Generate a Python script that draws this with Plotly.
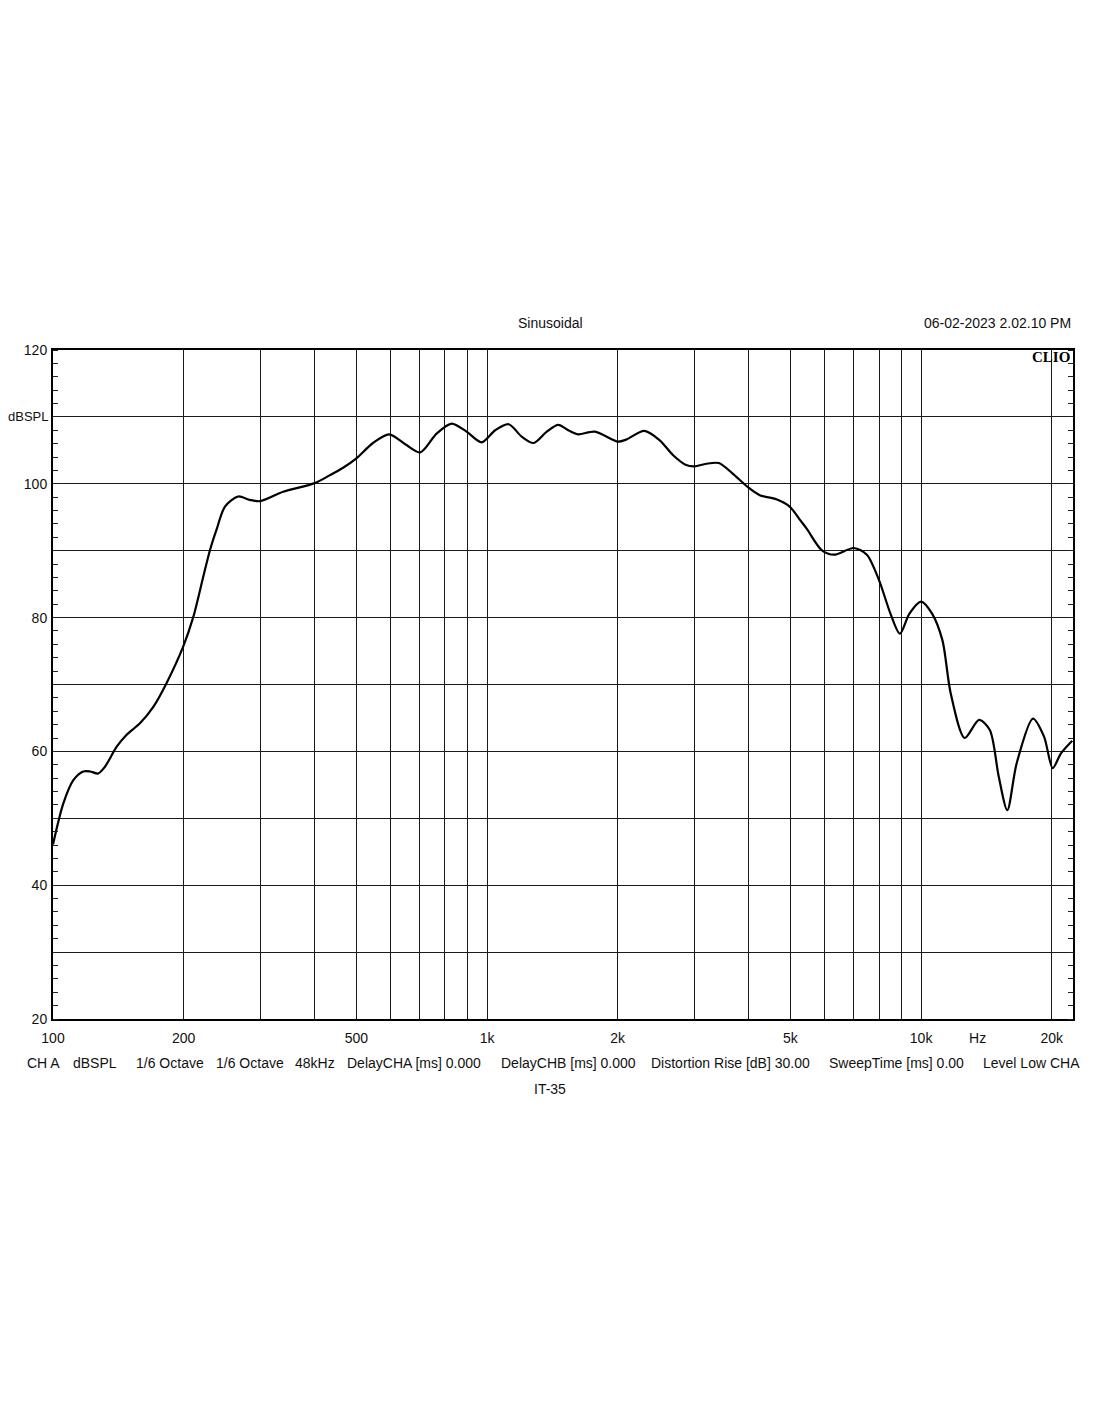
import plotly.graph_objects as go

# Frequency response (Hz, dBSPL)
freq_hz = [100, 105.6, 111.4, 117.4, 121.7, 127.1, 131.7, 140.2, 147.8, 158.6,
           170.4, 182.6, 199.6, 210.5, 221.9, 230, 238, 249, 267, 284,
           300, 339, 401, 434.6, 466, 500, 546, 595, 652, 702,
           765, 829, 897, 972, 1044, 1122, 1204, 1280, 1373, 1459,
           1539, 1620, 1771, 2003, 2090, 2303, 2500, 2680, 2875, 3005,
           3200, 3420, 3670, 3990, 4250, 4640, 4980, 5260, 5450, 5900,
           6300, 7000, 7500, 8000, 8500, 8940, 9400, 10000, 10600, 11200,
           11700, 12600, 13600, 14400, 15100, 15800, 16600, 18100, 19200, 20100,
           21000, 22300]
spl_db = [46.1, 52.2, 55.7, 57.0, 57.0, 56.7, 57.7, 60.7, 62.5, 64.2,
          66.7, 70.2, 75.7, 80.1, 86.1, 90.1, 93.1, 96.6, 98.1, 97.6,
          97.4, 98.8, 100.1, 101.3, 102.4, 103.8, 106.1, 107.4, 105.8, 104.7,
          107.5, 109.0, 107.8, 106.2, 108.0, 108.9, 107.0, 106.1, 107.8, 108.8,
          108.0, 107.4, 107.8, 106.3, 106.6, 107.9, 106.5, 104.3, 102.8, 102.6,
          103.0, 103.1, 101.6, 99.5, 98.3, 97.7, 96.6, 94.6, 93.3, 90.1,
          89.4, 90.4, 89.4, 85.6, 80.6, 77.6, 80.6, 82.4, 80.6, 76.6,
          68.7, 62.0, 64.7, 63.2, 56.2, 51.2, 58.2, 64.9, 62.2, 57.5,
          59.7, 61.6]

# Axis ticks
x_label_vals = [100, 200, 500, 1000, 2000, 5000, 10000, 13500, 20000]
x_label_text = ["100", "200", "500", "1k", "2k", "5k", "10k", "Hz", "20k"]
x_grid_vals = [200, 300, 400, 500, 600, 700, 800, 900, 1000,
               2000, 3000, 4000, 5000, 6000, 7000, 8000, 9000, 10000, 20000]
y_vals = [20, 30, 40, 50, 60, 70, 80, 90, 100, 110, 120]
y_text = ["20", "", "40", "", "60", "", "80", "", "100", "", "120"]
y_unit_label = "dBSPL"
y_unit_value = 110

info_items = ["CH A", "dBSPL", "1/6 Octave", "1/6 Octave", "48kHz",
              "DelayCHA [ms] 0.000", "DelayCHB [ms] 0.000",
              "Distortion Rise [dB] 30.00", "SweepTime [ms] 0.00", "Level Low CHA"]
info_x_px = [25, 71, 134, 214, 293, 345, 499, 649, 827, 981]

# page has an 8px body margin
OFF = 8
W, H = 1100 - 2 * OFF, 1422 - 2 * OFF
L, R, T, B = 53, 1073, 350, 1019   # plot area in page pixels
FONT = "Liberation Sans, Arial, sans-serif"
XR = [2, 4.35]
YR = [20, 120]
FS = 14

fig = go.Figure()
fig.add_trace(go.Scatter(x=freq_hz, y=spl_db, mode="lines",
                         line=dict(color="black", width=2.2, shape="spline", smoothing=0.8),
                         hoverinfo="skip", showlegend=False))
fig.add_trace(go.Scatter(x=[100], y=[20], xaxis="x2", yaxis="y2", mode="markers",
                         marker=dict(opacity=0), showlegend=False, hoverinfo="skip"))

fig.update_layout(
    width=W, height=H,
    margin=dict(l=L - OFF, r=W - (R - OFF), t=T - OFF, b=H - (B - OFF), autoexpand=False),
    paper_bgcolor="white", plot_bgcolor="white",
    font=dict(family=FONT, size=FS, color="#111"),
    xaxis=dict(type="log", range=XR, tickmode="array", tickvals=x_label_vals,
               ticktext=x_label_text, showgrid=False, zeroline=False, automargin=False,
               showline=True, linecolor="black", linewidth=2, mirror=True,
               ticks="", ticklabelstandoff=5, tickfont=dict(size=FS)),
    yaxis=dict(range=YR, tickmode="array", tickvals=y_vals, ticktext=y_text,
               showgrid=True, gridcolor="#1a1a1a", gridwidth=1.3, zeroline=False,
               automargin=False,
               showline=True, linecolor="black", linewidth=2, mirror=True,
               ticks="", ticklabelstandoff=1, tickfont=dict(size=FS),
               minor=dict(dtick=2, ticks="inside", ticklen=5, tickcolor="#222",
                          tickwidth=1, showgrid=False)),
    xaxis2=dict(type="log", range=XR, overlaying="x", tickmode="array",
                tickvals=x_grid_vals, showticklabels=False, showgrid=True,
                gridcolor="#1a1a1a", gridwidth=1.3, zeroline=False, ticks="",
                showline=False, automargin=False),
    yaxis2=dict(range=YR, overlaying="y", side="right", showticklabels=False,
                showgrid=False, zeroline=False, showline=False, tickmode="array",
                tickvals=[], ticks="", automargin=False,
                minor=dict(dtick=2, ticks="inside", ticklen=5, tickcolor="#222",
                           tickwidth=1, showgrid=False)),
)

annotations = []
def ypaper(py):
    return (B - py) / (B - T)
def xpaper(px):
    return (px - L) / (R - L)

annotations.append(dict(text=y_unit_label, x=xpaper(49), y=y_unit_value, xref="paper", yref="y",
                        xanchor="right", yanchor="middle", showarrow=False, borderpad=0,
                        font=dict(size=13, family=FONT, color="#111")))
annotations.append(dict(text="Sinusoidal", x=xpaper(550), y=ypaper(323), xref="paper", yref="paper",
                        xanchor="center", yanchor="middle", showarrow=False,
                        font=dict(size=FS, family=FONT, color="#111")))
annotations.append(dict(text="06-02-2023 2.02.10 PM", x=xpaper(1073), y=ypaper(323), xref="paper",
                        yref="paper", xanchor="right", yanchor="middle", showarrow=False,
                        font=dict(size=FS, family=FONT, color="#111")))
annotations.append(dict(text="<b>CLIO</b>", x=xpaper(1072), y=ypaper(357), xref="paper",
                        yref="paper", xanchor="right", yanchor="middle", showarrow=False,
                        font=dict(size=15, family="Liberation Serif, serif", color="black")))
for t, px in zip(info_items, info_x_px):
    annotations.append(dict(text=t, x=xpaper(px), y=ypaper(1063), xref="paper", yref="paper",
                            xanchor="left", yanchor="middle", showarrow=False,
                            font=dict(size=FS, family=FONT, color="#111")))
annotations.append(dict(text="IT-35", x=xpaper(550), y=ypaper(1089), xref="paper", yref="paper",
                        xanchor="center", yanchor="middle", showarrow=False,
                        font=dict(size=FS, family=FONT, color="#111")))
fig.update_layout(annotations=annotations)

fig.write_html("out.html")
